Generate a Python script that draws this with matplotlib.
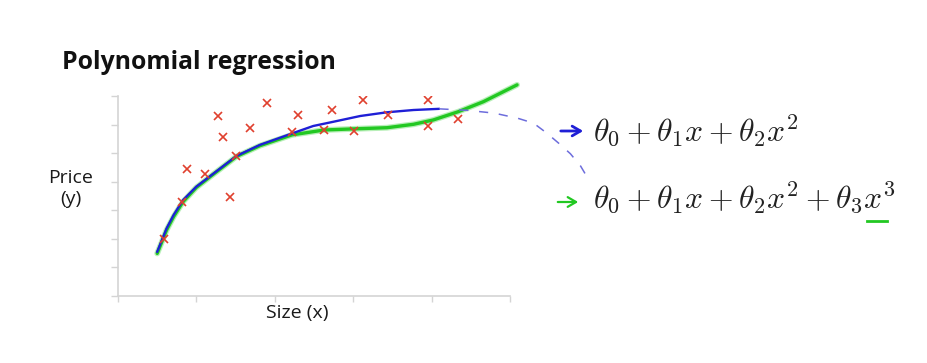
import matplotlib
matplotlib.use("Agg")
import matplotlib.pyplot as plt
from matplotlib.lines import Line2D

plt.rcParams["mathtext.fontset"] = "cm"

RED = "#e0402e"
BLUE = "#1f1fd6"
DASH_BLUE = "#6d6ddc"
GREEN = "#22c822"
SPINE = "#d4d4d4"

# training examples (size, price)
size_x = [0.59, 0.82, 0.88, 1.11, 1.27, 1.34, 1.43, 1.51, 1.68, 1.90,
          2.22, 2.29, 2.63, 2.73, 3.01, 3.13, 3.45, 3.95, 3.96, 4.34]
price_y = [1.98, 3.29, 4.43, 4.27, 6.30, 5.55, 3.48, 4.90, 5.87, 6.74,
           5.75, 6.32, 5.80, 6.51, 5.78, 6.86, 6.32, 6.86, 5.96, 6.20]

# quadratic fit, as drawn
quad_x = [0.50, 0.56, 0.62, 0.71, 0.83, 1.00, 1.22, 1.51, 1.81, 2.22,
          2.49, 2.75, 3.09, 3.43, 3.77, 4.09]
quad_y = [1.55, 1.96, 2.37, 2.84, 3.36, 3.83, 4.29, 4.90, 5.29, 5.69,
          5.95, 6.10, 6.30, 6.43, 6.51, 6.55]

# where the quadratic would head (dashed sketch)
quad_ext_x = [4.10, 4.45, 4.80, 5.10, 5.30, 5.47, 5.62, 5.77, 5.90, 5.98]
quad_ext_y = [6.55, 6.50, 6.40, 6.22, 6.05, 5.70, 5.35, 4.98, 4.55, 4.18]

# cubic fit, as drawn
cubic_x = [0.50, 0.56, 0.62, 0.71, 0.83, 1.00, 1.22, 1.51, 1.81, 2.22,
           2.63, 3.01, 3.43, 3.77, 4.02, 4.34, 4.66, 5.09]
cubic_y = [1.49, 1.90, 2.31, 2.78, 3.30, 3.80, 4.27, 4.88, 5.26, 5.64,
           5.81, 5.85, 5.89, 6.01, 6.16, 6.45, 6.80, 7.39]

x_ticks = [0, 1, 2, 3, 4, 5]
y_ticks = [0, 1, 2, 3, 4, 5, 6, 7]

W, H = 927, 363
fig = plt.figure(figsize=(W / 100, H / 100), dpi=100)
ax = fig.add_axes([118 / W, 67 / H, 392 / W, 200 / H])
ax.set_xlim(0, 5)
ax.set_ylim(0, 7)

ax.plot(cubic_x, cubic_y, color="#b8efb8", lw=4.2, solid_capstyle="round",
        clip_on=False, zorder=2)
ax.plot(cubic_x, cubic_y, color=GREEN, lw=2.4, solid_capstyle="round",
        clip_on=False, zorder=3)
ax.plot(quad_x, quad_y, color=BLUE, lw=1.7, clip_on=False, zorder=4)
ax.plot(quad_ext_x, quad_ext_y, color=DASH_BLUE, lw=1.1, ls=(0, (6, 7)),
        clip_on=False, zorder=4)
ax.plot(size_x, price_y, "x", color=RED, ms=6, mew=1.2, zorder=5)

ax.set_xticks(x_ticks)
ax.set_yticks(y_ticks)
ax.set_xticklabels([])
ax.set_yticklabels([])
ax.tick_params(axis="y", length=5, width=1, color=SPINE, direction="out")
ax.tick_params(axis="x", length=4, width=1, color=SPINE, direction="out")
for side in ("top", "right"):
    ax.spines[side].set_visible(False)
for side in ("left", "bottom"):
    ax.spines[side].set_color(SPINE)
    ax.spines[side].set_linewidth(1.2)

LBL = dict(fontsize=14, family="Open Sans", color="#1a1a1a", ha="center",
           va="baseline")
fig.text(297 / W, 1 - 318 / H, "Size (x)", **LBL)
fig.text(71 / W, 1 - 183 / H, "Price", **LBL)
fig.text(71 / W, 1 - 204 / H, "(y)", **LBL)

fig.text(62 / W, 1 - 69 / H, "Polynomial regression", fontsize=17.8,
         family="Open Sans", fontweight="bold", ha="left", va="baseline",
         color="#111111")

# hypotheses
fig.text(593 / W, 1 - 141 / H, r"$\theta_0 + \theta_1 x + \theta_2 x^2$",
         fontsize=22.8, ha="left", va="baseline", color="#222222")
fig.text(593 / W, 1 - 208 / H,
         r"$\theta_0 + \theta_1 x + \theta_2 x^2 + \theta_3 x^3$",
         fontsize=22.8, ha="left", va="baseline", color="#222222")

ax.annotate("", xy=(586 / W, 1 - 131 / H), xytext=(558 / W, 1 - 131 / H),
            xycoords="figure fraction", textcoords="figure fraction",
            arrowprops=dict(arrowstyle="->,head_length=0.6,head_width=0.35",
                            color=BLUE, lw=2))
ax.annotate("", xy=(581 / W, 1 - 202 / H), xytext=(555 / W, 1 - 202 / H),
            xycoords="figure fraction", textcoords="figure fraction",
            arrowprops=dict(arrowstyle="->,head_length=0.6,head_width=0.35",
                            color=GREEN, lw=1.6))
fig.add_artist(Line2D([867 / W, 887 / W], [1 - 221 / H, 1 - 221 / H],
                      color=GREEN, lw=2, transform=fig.transFigure))

fig.savefig("out.png", dpi=100, facecolor="white")
